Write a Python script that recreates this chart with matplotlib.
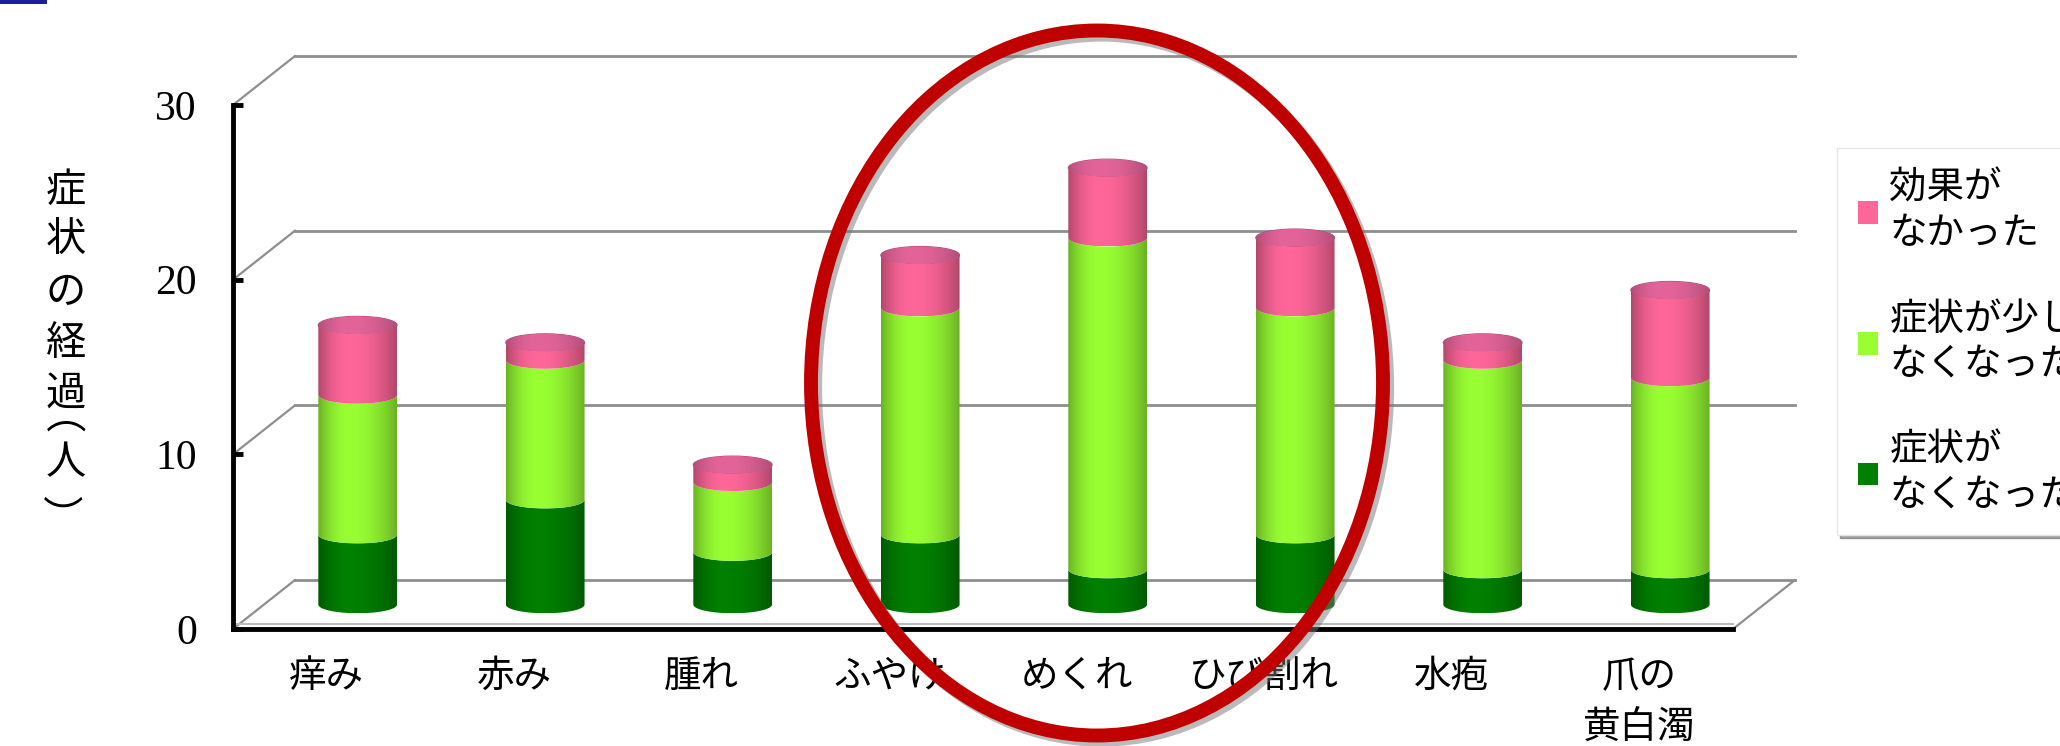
import numpy as np
import matplotlib.pyplot as plt
import matplotlib.patheffects as pe
from matplotlib.patches import PathPatch, Ellipse, Patch, Rectangle
from matplotlib.path import Path

plt.rcParams['font.family'] = ['Noto Sans CJK JP', 'DejaVu Sans']

# 人数（症状の経過）
categories = ['痒み', '赤み', '腫れ', 'ふやけ', 'めくれ', 'ひび割れ', '水疱', '爪の\n黄白濁']
gone = [4, 6, 3, 4, 2, 4, 2, 2]            # 症状がなくなった
less = [8, 8, 4, 13, 19, 13, 12, 11]       # 症状が少しなくなった
no_effect = [4, 1, 1, 3, 4, 4, 1, 5]       # 効果がなかった
series = [gone, less, no_effect]
series_labels = ['症状が\nなくなった', '症状が少し\nなくなった', '効果が\nなかった']
series_colors = ['#008000', '#99FF33', '#FF6699']
yticks = [0, 10, 20, 30]
ylabel = '症状の経過（人）'

DX, DY = 0.33, 2.8     # depth of the 3d box (data units)
BW = 0.42              # cylinder diameter
EB = 0.5               # half height of the ellipses
GRID = '#8E8E8E'


def shade(color, lo=0.7, peak=0.4, n=80):
    rgb = np.array(plt.matplotlib.colors.to_rgb(color))
    t = np.linspace(0, 1, n)
    f = np.where(t < peak, 1 - (1 - lo) * ((peak - t) / peak) ** 2,
                 1 - (1 - lo) * ((t - peak) / (1 - peak)) ** 2)
    img = np.clip(rgb[None, :] * f[:, None], 0, 1)
    return img[None, :, :]


def segment_path(cx, y0, y1):
    th = np.linspace(np.pi, 2 * np.pi, 40)
    bottom = np.column_stack([cx + BW / 2 * np.cos(th), y0 + EB * np.sin(th)])
    top = np.column_stack([cx + BW / 2 * np.cos(th[::-1]), y1 + EB * np.sin(th[::-1])])
    return Path(np.vstack([bottom, top, bottom[:1]]), closed=True)


def fill_gradient(ax, patch, color, x0, x1, y0, y1, z, lo=0.7):
    ax.add_patch(patch)
    im = ax.imshow(shade(color, lo), extent=(x0, x1, y0, y1), aspect='auto',
                   interpolation='bilinear', zorder=z)
    im.set_clip_path(patch)


fig = plt.figure(figsize=(20.6, 7.46), dpi=100)
ax = fig.add_axes([233 / 2060, 117 / 746, 1500 / 2060, 524 / 746])

# back wall, side wall and floor
for v in yticks:
    ax.plot([-0.5 + DX, 7.5 + DX], [v + DY, v + DY], color=GRID, lw=2, clip_on=False, zorder=1)
    ax.plot([-0.5, -0.5 + DX], [v, v + DY], color=GRID, lw=1.6, clip_on=False, zorder=1)
ax.plot([7.5, 7.5 + DX], [0, DY], color=GRID, lw=1.6, clip_on=False, zorder=1)
ax.plot([-0.5, 7.5], [0.28, 0.28], color='#BBBBBB', lw=1.5, clip_on=False, zorder=1)

# stacked cylinders
for i in range(len(categories)):
    cx = i + DX / 2
    base = DY / 2
    for k, vals in enumerate(series):
        y0 = base
        y1 = base + vals[i]
        p = PathPatch(segment_path(cx, y0, y1), facecolor='none', edgecolor='none')
        fill_gradient(ax, p, series_colors[k], cx - BW / 2, cx + BW / 2, y0 - EB, y1 + EB, 3 + k)
        base = y1
    cap = Ellipse((cx, base), BW, 2 * EB, facecolor='none', edgecolor='#B04A7A', lw=0.8)
    fill_gradient(ax, cap, '#E4649A', cx - BW / 2, cx + BW / 2, base - EB, base + EB, 7, lo=0.78)

ax.set_xlim(-0.5, 7.5)
ax.set_ylim(0, 30)
ax.set_facecolor('none')
for s in ['top', 'right']:
    ax.spines[s].set_visible(False)
for s in ['left', 'bottom']:
    ax.spines[s].set_linewidth(3.5)
    ax.spines[s].set_color('black')
    ax.spines[s].set_zorder(8)

ax.set_yticks(yticks)
ax.set_yticklabels([str(v) for v in yticks], fontfamily='Liberation Serif', fontsize=30)
ax.tick_params(axis='y', direction='in', length=7, width=3.5, pad=26)
ax.set_xticks(range(len(categories)))
ax.set_xticklabels(categories, fontsize=27, linespacing=1.42)
ax.tick_params(axis='x', length=0, pad=20)

# vertical axis title, one character per line; brackets turned for vertical writing
label_x = [66, 66, 66, 66, 66, 33, 66, 56]
label_y = [190, 240, 292, 344, 394, 440, 463, 515]
for ch, xx, yy in zip(ylabel, label_x, label_y):
    rot = -90 if ch in '（）' else 0
    fig.text(xx / 2060, 1 - yy / 746, ch, ha='center', va='center', fontsize=29, rotation=rot)

handles = [Patch(facecolor=c, edgecolor='none') for c in series_colors[::-1]]
leg = fig.legend(handles, series_labels[::-1], loc='upper left',
                 bbox_to_anchor=(1837 / 2060, 1 - 148 / 746), borderaxespad=0,
                 fontsize=27, handlelength=0.55, handleheight=0.55, handletextpad=0.3,
                 labelspacing=1.25, borderpad=0.55, fancybox=False, shadow=True,
                 edgecolor='#E6E6E6', framealpha=1)

# red ellipse highlighting the middle group
ring = Ellipse((1097 / 2060, 1 - 383 / 746), 572 / 2060, 705 / 746, transform=fig.transFigure,
               fill=False, edgecolor='#C00000', lw=10, zorder=20)
ring.set_path_effects([pe.SimpleLineShadow(offset=(3, -3), shadow_color='#777777', alpha=0.5),
                       pe.Normal()])
fig.add_artist(ring)

fig.add_artist(Rectangle((0, 1 - 4 / 746), 47 / 2060, 4 / 746, transform=fig.transFigure,
                         facecolor='#1E1E9C', edgecolor='none'))

fig.savefig('out.png', dpi=100)
